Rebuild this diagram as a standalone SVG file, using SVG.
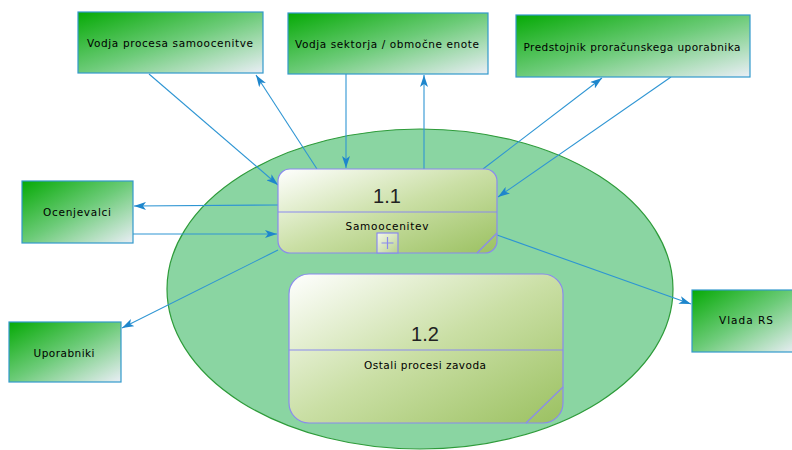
<svg xmlns="http://www.w3.org/2000/svg" width="792" height="450" viewBox="0 0 792 450">
  <style>
    .ext rect { fill: url(#extGrad); stroke: #3399CC; stroke-width: 1.2; }
    .proc .body { fill: url(#procGrad); stroke: #8A8AEE; stroke-width: 1.2; }
    .proc line { stroke: #8A8AEE; stroke-width: 1.2; }
    .lbl { font-family: "DejaVu Sans", Verdana, sans-serif; font-size: 10.5px; fill: #000; text-anchor: middle; }
    .num { font-family: "Liberation Sans", Arial, sans-serif; font-size: 20px; fill: #222; text-anchor: middle; }
    .flow line { stroke: #2E95D3; stroke-width: 1.1; fill: none; marker-end: url(#arrow); }
  </style>
  <defs>
    <linearGradient id="extGrad" x1="0" y1="0" x2="1" y2="1">
      <stop offset="0" stop-color="#06AA06"/>
      <stop offset="0.5" stop-color="#6CCB78"/>
      <stop offset="1" stop-color="#EAEEF6"/>
    </linearGradient>
    <linearGradient id="procGrad" x1="0" y1="0" x2="1" y2="1">
      <stop offset="0" stop-color="#FFFFFF"/>
      <stop offset="0.5" stop-color="#CADFA5"/>
      <stop offset="1" stop-color="#9BC161"/>
    </linearGradient>
    <linearGradient id="plusGrad" x1="0" y1="0" x2="1" y2="1">
      <stop offset="0" stop-color="#F4F8EC"/>
      <stop offset="1" stop-color="#B8D08C"/>
    </linearGradient>
    <marker id="arrow" viewBox="0 0 12 8" refX="12" refY="4" markerWidth="12" markerHeight="8" markerUnits="userSpaceOnUse" orient="auto">
      <path d="M0,0 L12,4 L0,8 L3,4 Z" fill="#1E86CC"/>
    </marker>
  </defs>

  <rect width="792" height="450" fill="#FFFFFF"/>

  <!-- system boundary -->
  <ellipse id="boundary" cx="420" cy="289" rx="253" ry="160" fill="#8AD5A2" stroke="#2E9B3A" stroke-width="1.2"/>

  <!-- data flows -->
  <g id="connectors" class="flow">
    <line x1="149" y1="74" x2="278" y2="185"/>
    <line x1="317" y1="169" x2="256" y2="75"/>
    <line x1="346" y1="74" x2="346" y2="168"/>
    <line x1="424" y1="169" x2="424" y2="75"/>
    <line x1="483" y1="169" x2="602" y2="78"/>
    <line x1="671" y1="77" x2="498" y2="197"/>
    <line x1="278" y1="205" x2="134" y2="206"/>
    <line x1="133" y1="234" x2="277" y2="234"/>
    <line x1="278" y1="250" x2="122" y2="328"/>
    <line x1="497" y1="235" x2="691" y2="304"/>
  </g>

  <!-- external entities -->
  <g id="vodja-procesa" class="ext">
    <rect x="78" y="12" width="185" height="61"/>
    <text class="lbl" x="170" y="47" textLength="166" lengthAdjust="spacing">Vodja procesa samoocenitve</text>
  </g>
  <g id="vodja-sektorja" class="ext">
    <rect x="288" y="13" width="200" height="61"/>
    <text class="lbl" x="387" y="48" textLength="184" lengthAdjust="spacing">Vodja sektorja / območne enote</text>
  </g>
  <g id="predstojnik" class="ext">
    <rect x="516" y="15" width="234" height="62"/>
    <text class="lbl" x="632" y="51" textLength="217" lengthAdjust="spacing">Predstojnik proračunskega uporabnika</text>
  </g>
  <g id="ocenjevalci" class="ext">
    <rect x="22" y="181" width="111" height="62"/>
    <text class="lbl" x="77" y="216" textLength="68" lengthAdjust="spacing">Ocenjevalci</text>
  </g>
  <g id="uporabniki" class="ext">
    <rect x="9" y="322" width="112" height="60"/>
    <text class="lbl" x="64" y="357" textLength="61" lengthAdjust="spacing">Uporabniki</text>
  </g>
  <g id="vlada-rs" class="ext">
    <rect x="692" y="290" width="104" height="62"/>
    <text class="lbl" x="746" y="324" textLength="54" lengthAdjust="spacing">Vlada RS</text>
  </g>

  <!-- processes -->
  <g id="proc-1-1" class="proc">
    <rect class="body" x="278" y="169" width="219" height="84" rx="12" ry="12"/>
    <line x1="278" y1="212" x2="497" y2="212"/>
    <line x1="497" y1="233" x2="477" y2="253"/>
    <text class="num" x="387" y="203">1.1</text>
    <text class="lbl" x="387" y="230" textLength="83" lengthAdjust="spacing">Samoocenitev</text>
    <rect x="377" y="233" width="21" height="20" fill="url(#plusGrad)" stroke="#8A8AEE" stroke-width="1.2"/>
    <path d="M387.5,237 V249 M381.5,243 H393.5" stroke="#8A8AEE" stroke-width="1.2" fill="none"/>
  </g>
  <g id="proc-1-2" class="proc">
    <rect class="body" x="289" y="274" width="274" height="149" rx="20" ry="20"/>
    <line x1="289" y1="350" x2="563" y2="350"/>
    <line x1="563" y1="387" x2="526" y2="423"/>
    <text class="num" x="425" y="341">1.2</text>
    <text class="lbl" x="425" y="369" textLength="122" lengthAdjust="spacing">Ostali procesi zavoda</text>
  </g>
</svg>
